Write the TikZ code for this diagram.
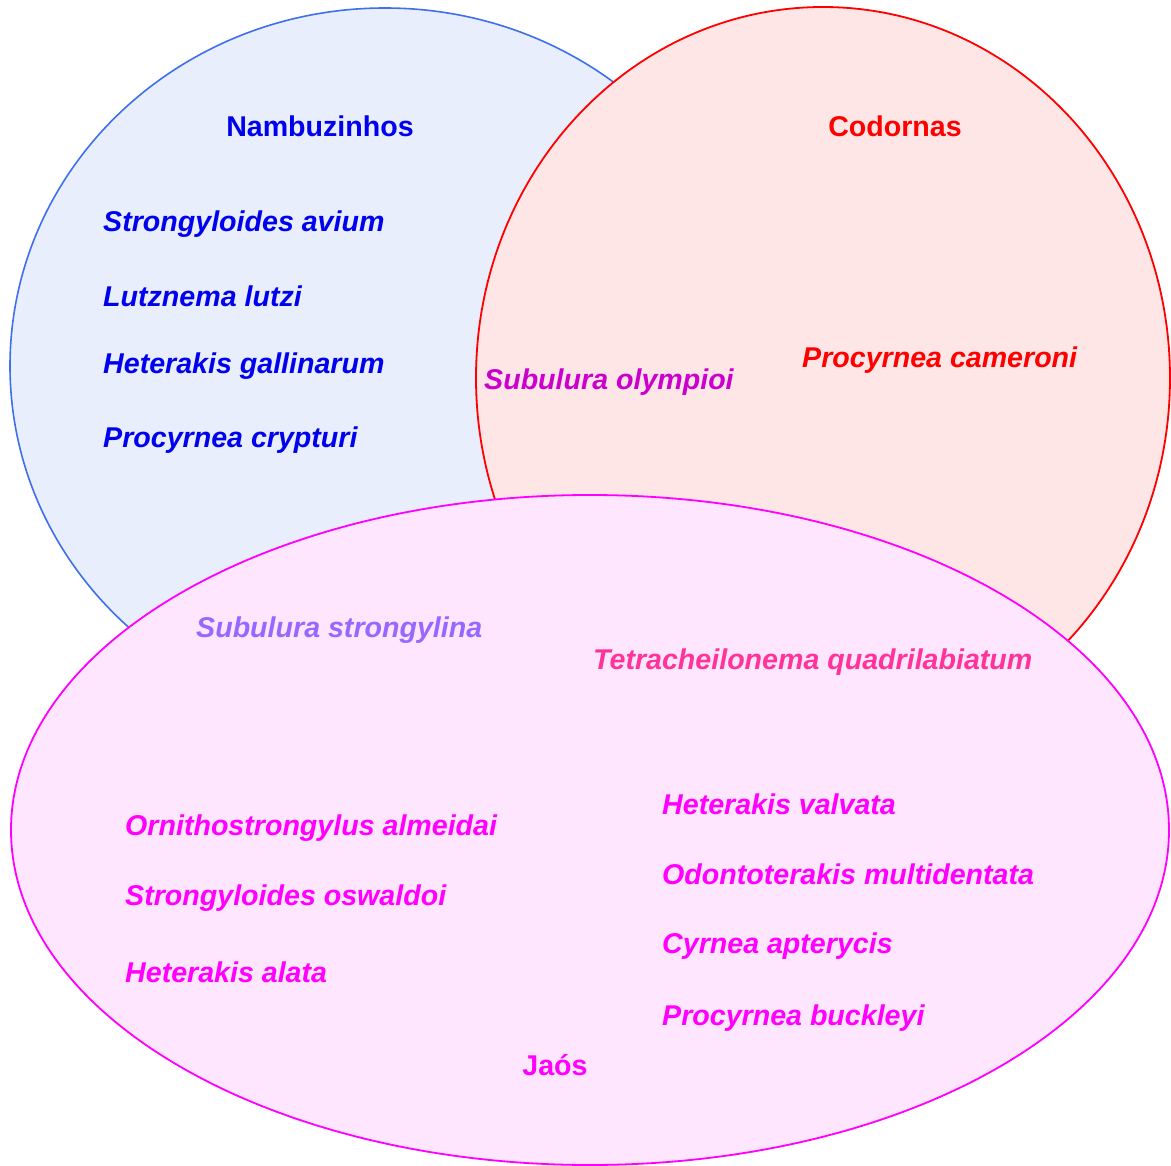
\documentclass[tikz,border=0pt]{standalone}
\usepackage{fontspec}
\setmainfont{Liberation Sans}
\definecolor{blueline}{HTML}{3F6FEF}
\definecolor{bluefill}{HTML}{E8EEFC}
\definecolor{redline}{HTML}{FF0000}
\definecolor{redfill}{HTML}{FFE6E6}
\definecolor{pinkline}{HTML}{FF00FF}
\definecolor{pinkfill}{HTML}{FFE6FF}
\definecolor{bluetext}{HTML}{0000EE}
\definecolor{olymp}{HTML}{CC00CC}
\definecolor{strong}{HTML}{9966FF}
\definecolor{tetra}{HTML}{FF3399}
\tikzset{
  sp/.style={anchor=west, inner sep=0pt, font=\fontsize{28.6}{32}\selectfont\bfseries\itshape},
  hd/.style={anchor=center, inner sep=0pt, font=\fontsize{28.6}{32}\selectfont\bfseries},
}
\begin{document}
\begin{tikzpicture}[x=1pt,y=-1pt]
\useasboundingbox (0,0) rectangle (1171,1166);
\draw[blueline, line width=1.6pt, fill=bluefill] (385,366) ellipse [x radius=375, y radius=358];
\draw[redline, line width=1.8pt, fill=redfill] (823,378) ellipse [x radius=347, y radius=371];
\draw[pinkline, line width=1.8pt, fill=pinkfill] (590,830) ellipse [x radius=579, y radius=335];

\node[hd, bluetext] (nam) at (320,126) {Nambuzinhos};
\node[sp, bluetext] (s1) at (103,224) {Strongyloides avium};
\node[sp, bluetext] (s2) at (103,296) {Lutznema lutzi};
\node[sp, bluetext] (s3) at (103,366) {Heterakis gallinarum};
\node[sp, bluetext] (s4) at (103,440) {Procyrnea crypturi};

\node[hd, redline] (cod) at (895,126) {Codornas};
\node[sp, redline] (c1) at (802,360) {Procyrnea cameroni};

\node[sp, olymp] (o1) at (484,382) {Subulura olympioi};
\node[sp, strong] (o2) at (196,630) {Subulura strongylina};
\node[sp, tetra] (o3) at (593,662) {Tetracheilonema quadrilabiatum};

\node[sp, pinkline] (j1) at (125,828) {Ornithostrongylus almeidai};
\node[sp, pinkline] (j2) at (125,898) {Strongyloides oswaldoi};
\node[sp, pinkline] (j3) at (125,972) {Heterakis alata};
\node[sp, pinkline] (j4) at (662,804) {Heterakis valvata};
\node[sp, pinkline] (j5) at (662,874) {Odontoterakis multidentata};
\node[sp, pinkline] (j6) at (662,946) {Cyrnea apterycis};
\node[sp, pinkline] (j7) at (662,1018) {Procyrnea buckleyi};
\node[hd, pinkline] (jao) at (555,1065) {Jaós};
\end{tikzpicture}
\end{document}
